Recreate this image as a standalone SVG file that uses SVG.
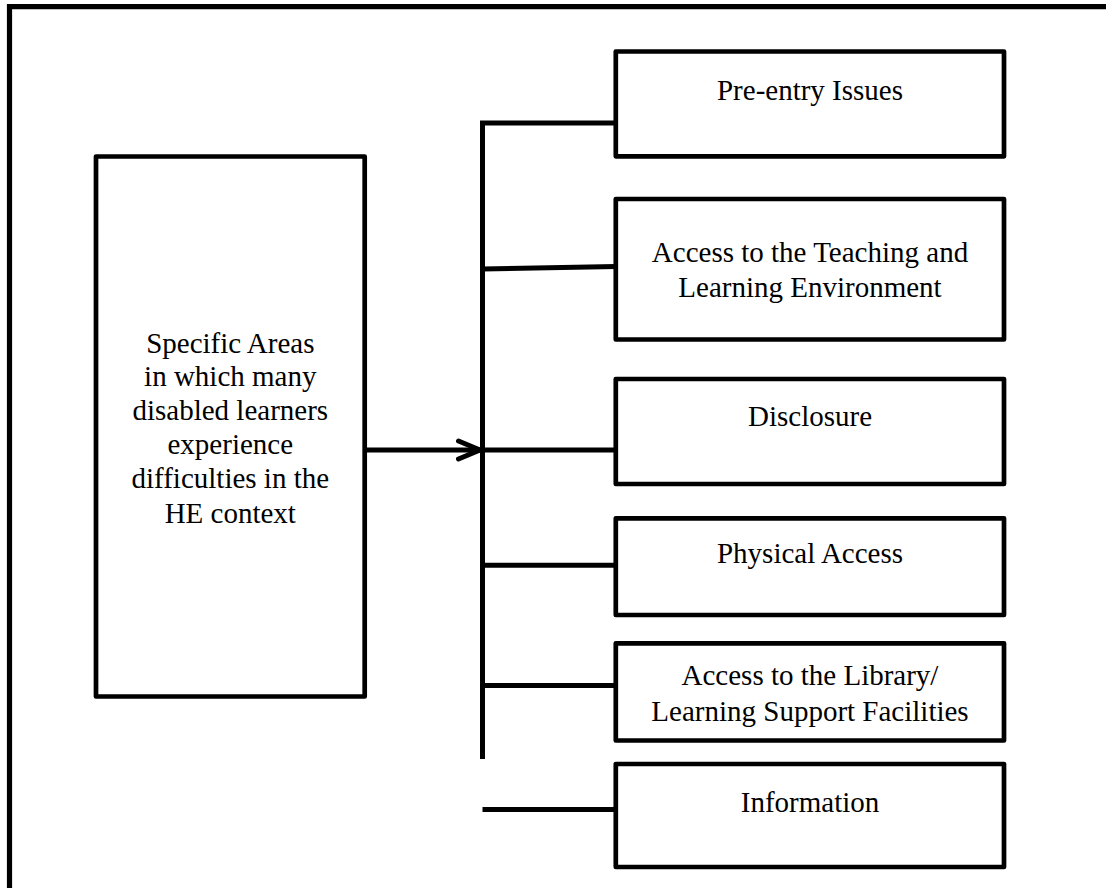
<svg xmlns="http://www.w3.org/2000/svg" width="1106" height="888" viewBox="0 0 1106 888">
<style>
.box{fill:#fff;stroke:#000;stroke-width:4.7;stroke-linejoin:round}
.lbl{font-family:"Liberation Serif","Times New Roman",serif;font-size:29px;fill:#000;text-anchor:middle}
.con{fill:none;stroke:#000;stroke-width:5}
</style>
<rect x="0" y="0" width="1106" height="888" fill="#fff"/>
<path d="M9.5 900 V6.7 H1120" fill="none" stroke="#000" stroke-width="5.2"/>
<g id="connectors">
<path class="con" d="M482.5 759 V121"/>
<path class="con" d="M480 123 H616"/>
<path class="con" d="M482.5 269 L616 266.5"/>
<path class="con" d="M482.5 450 H616"/>
<path class="con" d="M482.5 565.3 H616"/>
<path class="con" d="M482.5 685.5 H616"/>
<path class="con" d="M482.5 809.5 H616"/>
<path class="con" d="M364.7 450 H480"/>
<path class="con" d="M458.5 441 L480 450 L458.5 459" stroke-linecap="round" stroke-linejoin="round"/>
</g>
<g id="main">
<rect class="box" x="96" y="156.5" width="268.7" height="540"/>
<text class="lbl" x="230.3" y="352.5">Specific Areas</text>
<text class="lbl" x="230.3" y="386">in which many</text>
<text class="lbl" x="230.3" y="419.5">disabled learners</text>
<text class="lbl" x="230.3" y="453.5">experience</text>
<text class="lbl" x="230.3" y="487.5">difficulties in the</text>
<text class="lbl" x="230.3" y="522.5">HE context</text>
</g>
<g id="preentry">
<rect class="box" x="615.8" y="51.5" width="388.2" height="104.8"/>
<text class="lbl" x="810" y="100">Pre-entry Issues</text>
</g>
<g id="teaching">
<rect class="box" x="615.8" y="199" width="388.2" height="140.5"/>
<text class="lbl" x="810" y="261.7">Access to the Teaching and</text>
<text class="lbl" x="810" y="296.7">Learning Environment</text>
</g>
<g id="disclosure">
<rect class="box" x="615.8" y="379" width="388.2" height="105"/>
<text class="lbl" x="810" y="426">Disclosure</text>
</g>
<g id="physical">
<rect class="box" x="615.8" y="518.3" width="388.2" height="96.7"/>
<text class="lbl" x="810" y="563.3">Physical Access</text>
</g>
<g id="library">
<rect class="box" x="615.8" y="643.3" width="388.2" height="97.2"/>
<text class="lbl" x="810" y="685">Access to the Library/</text>
<text class="lbl" x="810" y="720.7">Learning Support Facilities</text>
</g>
<g id="information">
<rect class="box" x="615.8" y="764" width="388.2" height="103"/>
<text class="lbl" x="810" y="811.7">Information</text>
</g>
</svg>
